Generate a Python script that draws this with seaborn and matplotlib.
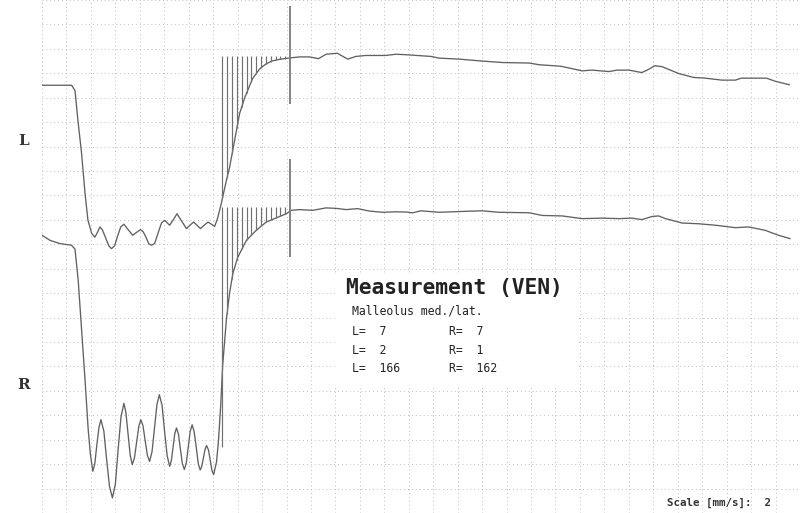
import numpy as np
import matplotlib
matplotlib.use("Agg")
import matplotlib.pyplot as plt
import matplotlib.patches as mpatches
import seaborn as sns

# time in grid columns, signal in grid rows
L_t = [0.00, 1.21, 1.35, 1.47, 1.62, 1.76, 1.88, 2.03, 2.16, 2.27, 2.37, 2.47, 2.60, 2.73, 2.84,
       2.97, 3.09, 3.22, 3.35, 3.53, 3.71, 3.87, 4.03, 4.14, 4.25, 4.37, 4.48, 4.61, 4.75, 4.89,
       5.02, 5.12, 5.22, 5.38, 5.52, 5.71, 5.91, 6.05, 6.20, 6.34, 6.48, 6.63, 6.79, 6.93, 7.06,
       7.18, 7.33, 7.54, 7.67, 7.80, 7.95, 8.08, 8.29, 8.61, 8.90, 9.17, 9.43, 9.71, 10.15, 10.53,
       10.94, 11.31, 11.62, 12.08, 12.50, 12.84, 13.25, 14.07, 14.48, 14.89, 15.91, 16.24, 17.06,
       18.01, 18.83, 19.92, 20.33, 21.21, 22.09, 22.50, 23.18, 23.52, 24.00, 24.53, 24.75, 25.07,
       25.36, 26.04, 26.65, 27.13, 27.81, 28.36, 28.59, 29.63, 30.00, 30.57]
L_v = [17.51, 17.51, 17.29, 16.06, 14.71, 13.08, 11.98, 11.45, 11.29, 11.49, 11.71, 11.59, 11.27,
       10.94, 10.82, 10.94, 11.33, 11.71, 11.82, 11.59, 11.37, 11.49, 11.60, 11.51, 11.29, 11.02,
       10.96, 11.04, 11.47, 11.88, 11.98, 11.88, 11.78, 12.02, 12.25, 11.95, 11.64, 11.78, 11.91,
       11.78, 11.64, 11.78, 11.91, 11.82, 11.73, 12.06, 12.66, 13.61, 14.14, 14.84, 15.65, 16.35,
       17.00, 17.78, 18.18, 18.39, 18.51, 18.57, 18.63, 18.67, 18.67, 18.60, 18.78, 18.82, 18.58,
       18.69, 18.73, 18.73, 18.78, 18.76, 18.69, 18.62, 18.58, 18.50, 18.44, 18.42, 18.35, 18.29,
       18.10, 18.13, 18.07, 18.13, 18.13, 18.03, 18.13, 18.31, 18.27, 17.99, 17.83, 17.80, 17.72,
       17.72, 17.80, 17.80, 17.67, 17.53]

R_t = [0.00, 0.33, 0.73, 1.21, 1.35, 1.48, 1.62, 1.76, 1.89, 1.98, 2.08, 2.16, 2.24, 2.33, 2.41,
       2.53, 2.64, 2.76, 2.88, 3.00, 3.11, 3.23, 3.35, 3.43, 3.52, 3.61, 3.69, 3.78, 3.87, 3.96,
       4.04, 4.13, 4.22, 4.31, 4.40, 4.50, 4.60, 4.70, 4.80, 4.91, 5.01, 5.12, 5.22, 5.29, 5.36,
       5.43, 5.50, 5.58, 5.66, 5.74, 5.82, 5.90, 5.98, 6.06, 6.14, 6.22, 6.31, 6.39, 6.47, 6.53,
       6.60, 6.67, 6.73, 6.81, 6.88, 6.95, 7.02, 7.14, 7.22, 7.31, 7.39, 7.54, 7.67, 7.81, 8.01,
       8.36, 8.76, 9.17, 9.58, 9.99, 10.19, 10.53, 11.07, 11.62, 12.03, 12.44, 12.91, 13.39, 13.93,
       14.48, 14.89, 15.16, 15.50, 16.24, 17.33, 18.01, 18.69, 19.92, 20.46, 21.28, 22.09, 22.91,
       23.59, 24.13, 24.54, 24.95, 25.22, 25.50, 26.18, 26.86, 27.54, 28.36, 28.90, 29.58, 30.12,
       30.60]
R_v = [11.37, 11.16, 11.03, 10.96, 10.80, 9.53, 7.49, 5.45, 3.41, 2.39, 1.71, 2.02, 2.76, 3.51,
       3.82, 3.35, 2.22, 1.09, 0.62, 1.18, 2.56, 3.93, 4.49, 4.12, 3.23, 2.35, 1.98, 2.25, 2.90,
       3.55, 3.82, 3.57, 2.96, 2.36, 2.11, 2.51, 3.47, 4.44, 4.84, 4.41, 3.37, 2.34, 1.91, 2.14,
       2.69, 3.25, 3.48, 3.23, 2.62, 2.02, 1.78, 2.04, 2.69, 3.34, 3.61, 3.34, 2.68, 2.02, 1.76,
       1.90, 2.25, 2.61, 2.76, 2.58, 2.16, 1.74, 1.57, 2.10, 3.00, 4.43, 6.06, 7.90, 9.00, 9.82,
       10.48, 11.16, 11.57, 11.91, 12.08, 12.25, 12.39, 12.42, 12.39, 12.49, 12.47, 12.42, 12.46,
       12.36, 12.31, 12.33, 12.32, 12.29, 12.37, 12.31, 12.35, 12.37, 12.31, 12.29, 12.18, 12.16,
       12.05, 12.07, 12.05, 12.07, 12.01, 12.14, 12.16, 12.05, 11.87, 11.84, 11.78, 11.68, 11.71,
       11.57, 11.37, 11.23]

# refilling (hatched) zone
hatch_t = [7.38, 7.57, 7.77, 7.97, 8.17, 8.37, 8.56, 8.76, 8.96, 9.16, 9.36, 9.55, 9.75, 9.95]
L_level = 18.71
R_level = 12.51
R_first_bottom = 2.71
marker_t = 10.15
L_marker = [16.76, 20.76]
R_marker = [10.47, 14.51]

labels = ["L", "R"]
label_pos = [141, 385]  # pixel rows of the side labels
meas_title = "Measurement (VEN)"
meas_site = "Malleolus med./lat."
L_vals = [7, 2, 166]
R_vals = [7, 1, 162]
scale_text = "Scale [mm/s]:  2"

sns.set_style("white")
plt.rcParams["font.family"] = ["DejaVu Sans Mono", "DejaVu Sans"]

fig = plt.figure(figsize=(8, 5.13), dpi=100)
ax = fig.add_axes([42 / 800, 0, 758 / 800, 1])

trace_col = "#616161"
sns.lineplot(x=L_t, y=L_v, ax=ax, color=trace_col, linewidth=0.95, sort=False, estimator=None)
sns.lineplot(x=R_t, y=R_v, ax=ax, color=trace_col, linewidth=0.95, sort=False, estimator=None)

L_bot = np.interp(hatch_t, L_t, L_v)
R_bot = np.interp(hatch_t, R_t, R_v)
R_bot[0] = R_first_bottom
ax.vlines(hatch_t, L_bot, L_level, color="#707070", linewidth=0.85)
ax.vlines(hatch_t, R_bot, R_level, color="#707070", linewidth=0.85)
ax.vlines([marker_t], L_marker[0], L_marker[1], color="#7a7a7a", linewidth=1.3)
ax.vlines([marker_t], R_marker[0], R_marker[1], color="#7a7a7a", linewidth=1.3)

ax.set_xlim(0, 758 / 24.5)
ax.set_ylim(0.02, 20.96)
ax.set_xticks(np.arange(0, 32))
ax.set_yticks(np.arange(0, 22))
ax.tick_params(length=0, labelbottom=False, labelleft=False)
for s in ax.spines.values():
    s.set_visible(False)
ax.grid(True, color="#bdbdbd", linestyle=(0, (1, 3)), linewidth=0.7)
ax.set_axisbelow(True)

# white panel for the measurement values
ax.add_patch(mpatches.Rectangle((335 / 800, 1 - 385 / 513), 242 / 800, 110 / 513,
                                transform=fig.transFigure, facecolor="white",
                                edgecolor="none", zorder=1.5))

txt_col = "#222222"
ax.text(12.44, 9.22, meas_title, fontsize=15.3, fontweight="bold", color=txt_col,
        va="center", ha="left", zorder=3)
ax.text(12.69, 8.27, meas_site, fontsize=8.3, color=txt_col, va="center", ha="left", zorder=3)
rows_y = [7.42, 6.64, 5.90]
for yy, lv, rv in zip(rows_y, L_vals, R_vals):
    ax.text(12.69, yy, f"L=  {lv}", fontsize=8.3, color=txt_col, va="center", ha="left", zorder=3)
    ax.text(16.65, yy, f"R=  {rv}", fontsize=8.3, color=txt_col, va="center", ha="left", zorder=3)

ax.text(25.55, 0.43, scale_text, fontsize=7.8, fontweight="bold", color="#333333",
        va="center", ha="left", zorder=3)

for lab, py in zip(labels, label_pos):
    fig.text(24 / 800, 1 - py / 513, lab, fontsize=11, fontweight="bold",
             family="DejaVu Serif", color="#333333", ha="center", va="center")

fig.savefig("out.png", dpi=100, facecolor="white")
